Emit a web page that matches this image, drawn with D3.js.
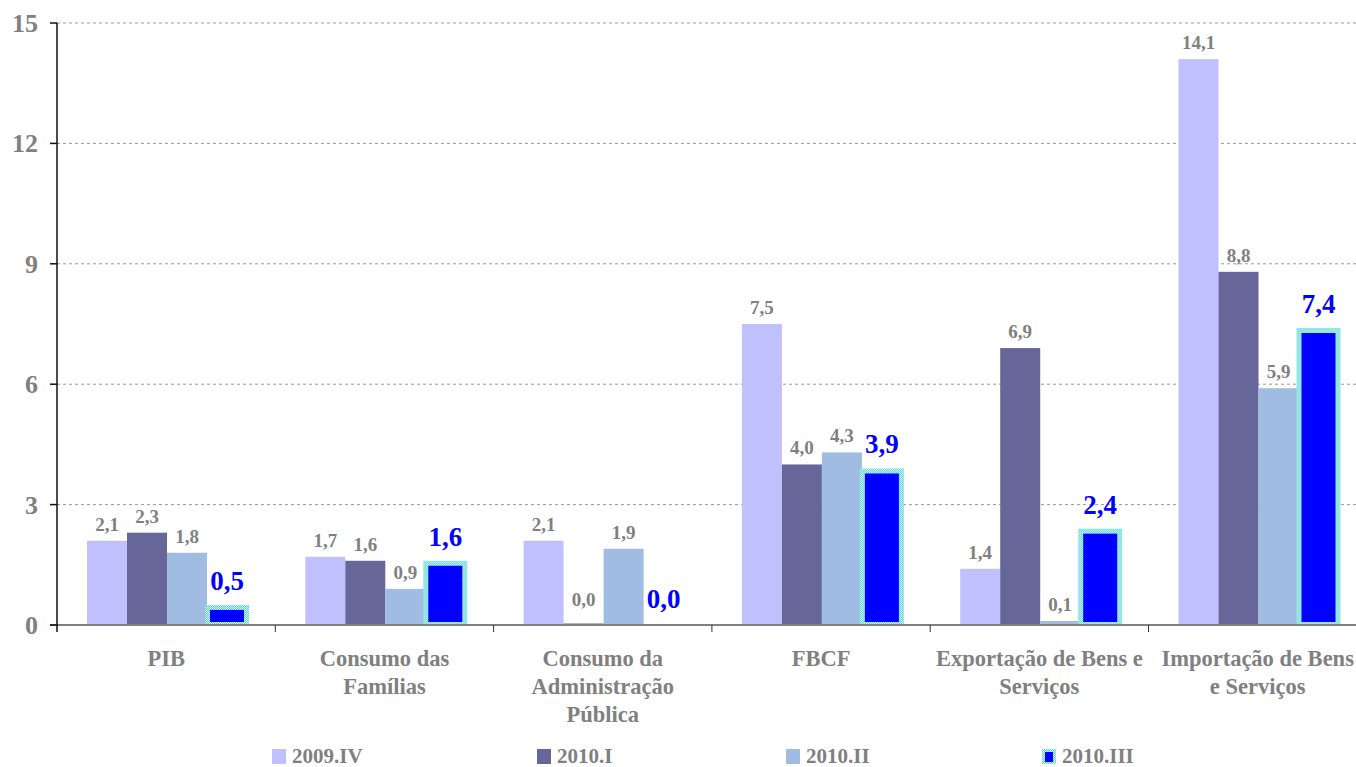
<!DOCTYPE html>
<html>
  <head>
    <meta charset="utf-8">
    <title>PIB e componentes</title>
    <script src="https://cdn.jsdelivr.net/npm/d3@7/dist/d3.min.js"></script>
    <style>
      body { margin: 0; background: #fff; }
      text { font-family: "Liberation Serif", "Times New Roman", serif; font-weight: bold; }
    </style>
  </head>
  <body>

    <script>
      // categorias (quebradas em linhas como no original)
      var categories = ["PIB", "Consumo das Famílias", "Consumo da Administração Pública",
                        "FBCF", "Exportação de Bens e Serviços", "Importação de Bens e Serviços"];
      var categoryLines = [
        ["PIB"],
        ["Consumo das", "Famílias"],
        ["Consumo da", "Administração", "Pública"],
        ["FBCF"],
        ["Exportação de Bens e", "Serviços"],
        ["Importação de Bens", "e Serviços"]
      ];
      var seriesNames = ["2009.IV", "2010.I", "2010.II", "2010.III"];
      var s2009IV  = [2.1, 1.7, 2.1, 7.5, 1.4, 14.1];
      var s2010I   = [2.3, 1.6, 0.0, 4.0, 6.9, 8.8];
      var s2010II  = [1.8, 0.9, 1.9, 4.3, 0.1, 5.9];
      var s2010III = [0.5, 1.6, 0.0, 3.9, 2.4, 7.4];
      var yTicks = [0, 3, 6, 9, 12, 15];

      var allSeries = [s2009IV, s2010I, s2010II, s2010III];
      var colors = ["#C0C0FF", "#666699", "#A0BCE2", "#0000FF"];
      var gray = "#808080";

      var W = 1356, H = 767;
      var svg = d3.select("body").append("svg")
        .attr("width", W)
        .attr("height", H);

      var defs = svg.append("defs");
      var pat = defs.append("pattern")
        .attr("id", "dots")
        .attr("width", 2).attr("height", 2)
        .attr("patternUnits", "userSpaceOnUse");
      pat.append("rect").attr("width", 2).attr("height", 2).attr("fill", "#D4F5F5");
      pat.append("rect").attr("width", 1).attr("height", 1).attr("fill", "#55D5D5");
      pat.append("rect").attr("x", 1).attr("y", 1).attr("width", 1).attr("height", 1).attr("fill", "#55D5D5");

      var x0 = d3.scaleBand()
        .domain(categories)
        .range([57, 57 + 6 * 218.3]);

      var x1 = d3.scaleBand()
        .domain(seriesNames)
        .range([30, 190]);

      var y = d3.scaleLinear()
        .domain([0, 15])
        .range([625, 23]);

      // grade
      svg.append("g").selectAll("line").data(yTicks.filter(function (d){ return d > 0; }))
        .enter().append("line")
          .attr("x1", 57).attr("x2", W)
          .attr("y1", function (d){ return y(d); })
          .attr("y2", function (d){ return y(d); })
          .attr("stroke", "#999")
          .attr("stroke-width", 1)
          .attr("stroke-dasharray", "3,3");

      // barras
      var rows = categories.map(function (c, i){
        return seriesNames.map(function (s, j){ return { cat: c, ser: s, j: j, v: allSeries[j][i] }; });
      });

      var groups = svg.append("g").selectAll("g").data(rows)
        .enter().append("g")
          .attr("transform", function (d, i){ return "translate(" + x0(categories[i]) + ",0)"; });

      groups.selectAll("rect.plain").data(function (d){ return d.filter(function (e){ return e.j < 3; }); })
        .enter().append("rect")
          .attr("class", "plain")
          .attr("x", function (d){ return x1(d.ser); })
          .attr("width", x1.bandwidth())
          .attr("y", function (d){ return Math.min(y(d.v), y(0) - 1.5); })
          .attr("height", function (d){ return Math.max(y(0) - y(d.v), 1.5); })
          .attr("fill", function (d){ return colors[d.j]; });

      var last = groups.selectAll("g.hl").data(function (d){ return d.filter(function (e){ return e.j === 3 && e.v > 0; }); })
        .enter().append("g").attr("class", "hl");
      last.append("rect")
        .attr("x", function (d){ return x1(d.ser) - 2; })
        .attr("width", x1.bandwidth() + 4)
        .attr("y", function (d){ return y(d.v); })
        .attr("height", function (d){ return y(0) - y(d.v); })
        .attr("fill", "url(#dots)");
      last.append("rect")
        .attr("x", function (d){ return x1(d.ser) + 3; })
        .attr("width", x1.bandwidth() - 6)
        .attr("y", function (d){ return y(d.v) + 5; })
        .attr("height", function (d){ return Math.max(y(0) - y(d.v) - 8, 0); })
        .attr("fill", colors[3]);

      // rótulos
      function fmt(v){ return v.toFixed(1).replace(".", ","); }
      groups.selectAll("text.lbl").data(function (d){ return d; })
        .enter().append("text")
          .attr("class", "lbl")
          .attr("x", function (d){ return x1(d.ser) + x1.bandwidth() / 2; })
          .attr("y", function (d){
            if (d.j === 3) return d.v === 0 ? y(0) - 17 : y(d.v) - 15;
            return d.v === 0 ? y(0) - 19 : y(d.v) - 10;
          })
          .attr("text-anchor", "middle")
          .attr("font-size", function (d){ return d.j === 3 ? 27 : 19; })
          .attr("fill", function (d){ return d.j === 3 ? "#0000FF" : gray; })
          .text(function (d){ return fmt(d.v); });

      // eixo x
      svg.append("line")
        .attr("x1", 50).attr("x2", W)
        .attr("y1", y(0)).attr("y2", y(0))
        .attr("stroke", gray).attr("stroke-width", 2);

      svg.append("g").selectAll("line").data(categories.slice(1))
        .enter().append("line")
          .attr("x1", function (d){ return x0(d); })
          .attr("x2", function (d){ return x0(d); })
          .attr("y1", y(0)).attr("y2", y(0) + 7)
          .attr("stroke", "#333").attr("stroke-width", 1);

      var cat = svg.append("g").selectAll("text").data(categories)
        .enter().append("text")
          .attr("x", function (d){ return x0(d) + x0.bandwidth() / 2; })
          .attr("y", 666)
          .attr("text-anchor", "middle")
          .attr("font-size", 22.5)
          .attr("fill", gray);
      cat.selectAll("tspan").data(function (d, i){ return categoryLines[i]; })
        .enter().append("tspan")
          .attr("x", function (){ return d3.select(this.parentNode).attr("x"); })
          .attr("dy", function (d, i){ return i === 0 ? 0 : 28; })
          .text(function (d){ return d; });

      // eixo y
      svg.append("line")
        .attr("x1", 57).attr("x2", 57)
        .attr("y1", y(15)).attr("y2", y(0) + 7)
        .attr("stroke", "#111").attr("stroke-width", 1.5);

      svg.append("g").selectAll("line").data(yTicks)
        .enter().append("line")
          .attr("x1", 50).attr("x2", 57)
          .attr("y1", function (d){ return y(d); })
          .attr("y2", function (d){ return y(d); })
          .attr("stroke", "#111").attr("stroke-width", 1.5);

      svg.append("g").selectAll("text").data(yTicks)
        .enter().append("text")
          .attr("x", 38)
          .attr("y", function (d){ return y(d) + 9; })
          .attr("text-anchor", "end")
          .attr("font-size", 26)
          .attr("fill", gray)
          .text(function (d){ return d; });

      // legenda
      var legX = [272, 537, 786, 1042];
      var leg = svg.append("g").selectAll("g").data(seriesNames)
        .enter().append("g")
          .attr("transform", function (d, i){ return "translate(" + legX[i] + ",749)"; });
      leg.each(function (d, i){
        var g = d3.select(this);
        if (i === 3) {
          g.append("rect").attr("width", 14).attr("height", 15).attr("fill", "url(#dots)");
          g.append("rect").attr("x", 3).attr("y", 3).attr("width", 8).attr("height", 10).attr("fill", colors[3]);
        } else {
          g.append("rect").attr("width", 14).attr("height", 15).attr("fill", colors[i]);
        }
      });
      leg.append("text")
        .attr("x", 20)
        .attr("y", 14)
        .attr("font-size", 21)
        .attr("fill", gray)
        .text(function (d){ return d; });

    </script>

  </body>
</html>
